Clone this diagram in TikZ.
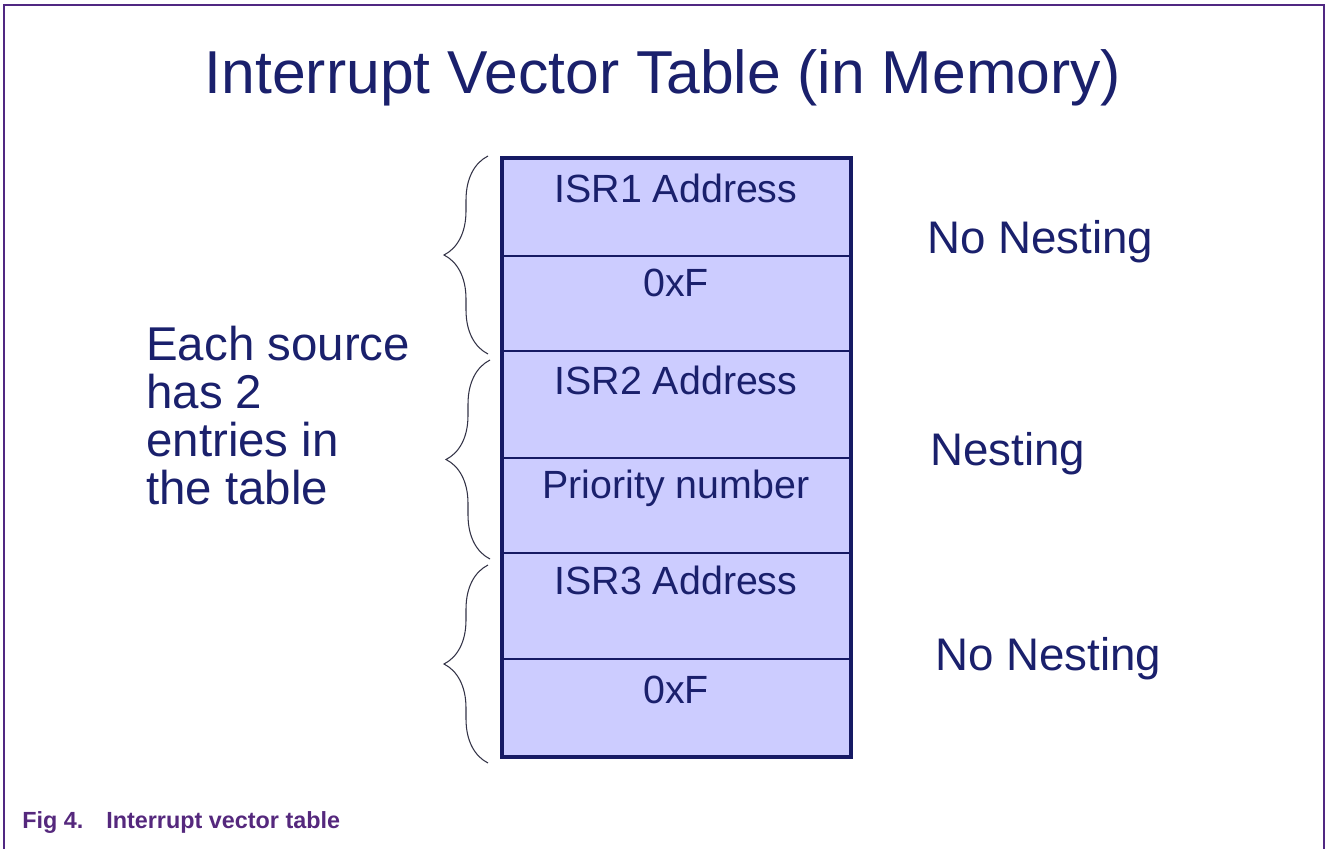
\documentclass[tikz,border=0pt]{standalone}
\usepackage{fontspec}
\setmainfont{Liberation Sans}
\usetikzlibrary{positioning,decorations.pathreplacing}
\definecolor{ivtnavy}{RGB}{26,32,108}
\definecolor{cellfill}{RGB}{204,204,255}
\definecolor{tableline}{RGB}{22,26,100}
\definecolor{framepurple}{RGB}{80,40,130}
\definecolor{captpurple}{RGB}{85,40,125}
\definecolor{bracegray}{RGB}{50,50,70}
\begin{document}
\begin{tikzpicture}[x=0.02cm,y=-0.02cm,
  lbl/.style={inner sep=0pt,text=ivtnavy},
  cell/.style={lbl,anchor=base,font=\fontsize{22.4}{26}\selectfont},
  side/.style={lbl,anchor=base west,font=\fontsize{26}{30}\selectfont},
  capt/.style={inner sep=0pt,anchor=base west,text=captpurple,font=\fontsize{13.3}{16}\selectfont\bfseries},
  brc/.style={draw=bracegray,line width=0.6pt,decorate,decoration={brace,amplitude=0.88cm}}]
\useasboundingbox (0,0) rectangle (1326,849);
\draw[framepurple,line width=1.1pt] (4,849) -- (4,5) -- (1324,5) -- (1324,849);
\node[lbl,anchor=base,font=\fontsize{34.5}{40}\selectfont] (title) at (663,93) {Interrupt Vector Table (in Memory)};
\fill[cellfill] (502,158) rectangle (851,757);
\foreach \y in {256,351,458,553,659}
  \draw[tableline,line width=1.1pt] (502,\y) -- (851,\y);
\draw[tableline,line width=1.8pt] (502,158) rectangle (851,757);
\node[cell] (isr1) at (676,202) {ISR1 Address};
\node[cell] (prio1) at (676,296) {0xF};
\node[cell] (isr2) at (676,394) {ISR2 Address};
\node[cell] (prio2) at (676,498) {Priority number};
\node[cell] (isr3) at (676,594) {ISR3 Address};
\node[cell] (prio3) at (676,703) {0xF};
\draw[brc] (488,354) -- (488,156);
\draw[brc] (490,559) -- (490,360);
\draw[brc] (488,763) -- (488,565);
\node[lbl,anchor=north west,align=left,font=\fontsize{27}{27.2}\selectfont] (each) at (146,326) {Each source\\has 2\\entries in\\the table};
\node[side] (nonest1) at (927,253) {No Nesting};
\node[side] (nest2) at (930,465) {Nesting};
\node[side] (nonest3) at (935,670) {No Nesting};
\node[capt] (fignum) at (22,828) {Fig 4.};
\node[capt] (figtext) at (106,828) {Interrupt vector table};
\end{tikzpicture}
\end{document}
